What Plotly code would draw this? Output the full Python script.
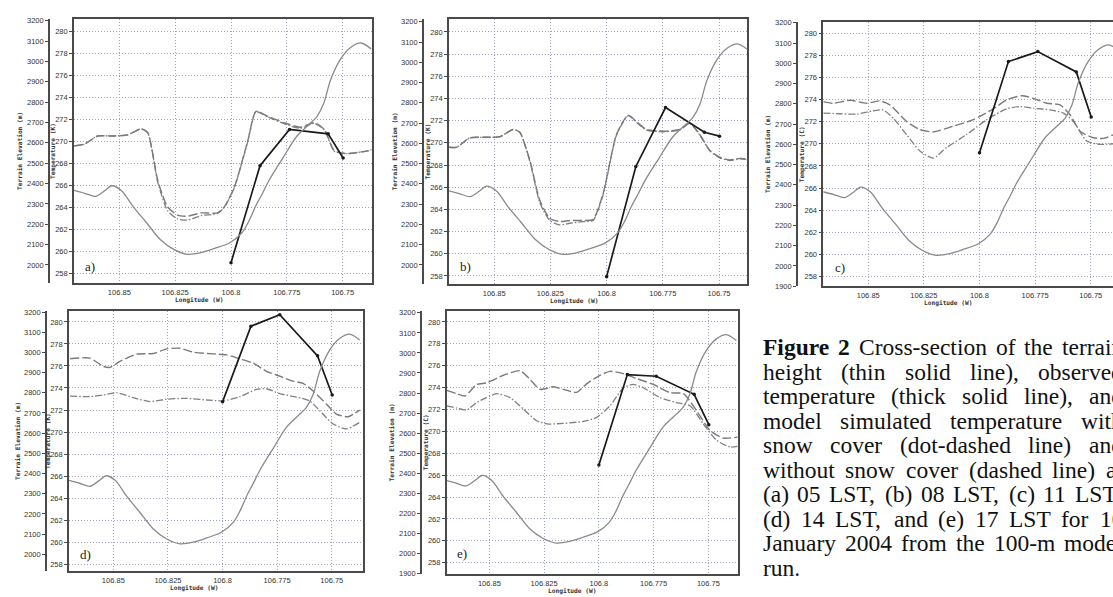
import plotly.graph_objects as go

W, H = 1113, 597

# ---------------- data ----------------
terrain_lon = [106.8703, 106.8655, 106.8607, 106.8565, 106.8534, 106.849, 106.8439, 106.8378,
               106.8317, 106.8256, 106.8195, 106.8134, 106.8073, 106.8005, 106.7951, 106.792,
               106.789, 106.786, 106.783, 106.7768, 106.7707, 106.7646, 106.7616, 106.7585,
               106.7555, 106.7509, 106.7463, 106.7418, 106.7372]
terrain_elev = [2366, 2352, 2337, 2365, 2389, 2365, 2288, 2207,
                2125, 2076, 2052, 2060, 2081, 2109, 2158, 2215,
                2288, 2350, 2415, 2525, 2630, 2695, 2728, 2793,
                2907, 3013, 3070, 3091, 3062]

obs_lon = [106.8, 106.787, 106.7738, 106.7565, 106.7498]
obs_a = [258.96, 267.8, 271.1, 270.7, 268.5]
obs_b = [257.94, 267.87, 273.18, 270.95, 270.6]
obs_c = [269.2, 277.44, 278.34, 276.5, 272.42]
obs_d = [272.74, 279.61, 280.66, 276.92, 273.36]
obs_e = [266.93, 275.19, 275.04, 273.39, 270.62]

# model without snow cover (dashed) / with snow cover (dot-dashed)
nosnow_a_lon = [106.8703, 106.8657, 106.8597, 106.8537, 106.8463, 106.8403, 106.8373, 106.8328,
                106.8284, 106.8239, 106.8194, 106.8134, 106.806, 106.803, 106.7985, 106.7925,
                106.7888, 106.7836, 106.7761, 106.7687, 106.7627, 106.7582, 106.7537, 106.7478,
                106.7388, 106.737]
nosnow_a_T = [269.6, 269.75, 270.5, 270.5, 270.6, 271.15, 270.8, 266.45,
              264.05, 263.3, 263.2, 263.5, 263.5, 264.05, 265.85, 270.05,
              272.75, 272.3, 271.7, 271.3, 271.7, 271.1, 269.15, 268.9,
              269.15, 269.25]
snow_a_lon = nosnow_a_lon
snow_a_T = [269.6, 269.75, 270.5, 270.5, 270.6, 271.15, 270.8, 266.3,
            263.7, 262.95, 262.85, 263.25, 263.45, 264.0, 265.8, 270.0,
            272.7, 272.25, 271.6, 271.2, 271.65, 271.05, 269.1, 268.9,
            269.15, 269.25]

nosnow_b_lon = [106.8701, 106.8667, 106.8608, 106.8549, 106.8475, 106.8416, 106.8386, 106.8341,
                106.8297, 106.8253, 106.8208, 106.8164, 106.8104, 106.806, 106.8016, 106.7956,
                106.7904, 106.7867, 106.7823, 106.7749, 106.7675, 106.763, 106.7586, 106.754,
                106.7497, 106.7453, 106.7408, 106.7377]
nosnow_b_T = [269.6, 269.6, 270.45, 270.5, 270.55, 271.2, 270.95, 268.4,
              264.8, 263.2, 262.9, 263.0, 263.0, 263.1, 265.4, 270.75,
              272.5, 271.9, 271.2, 271.05, 271.2, 271.8, 270.75, 269.3,
              268.7, 268.45, 268.6, 268.55]
snow_b_lon = nosnow_b_lon
snow_b_T = [269.6, 269.6, 270.45, 270.5, 270.55, 271.2, 270.95, 268.3,
            264.6, 263.0, 262.6, 262.75, 262.9, 263.0, 265.3, 270.7,
            272.45, 271.85, 271.15, 271.0, 271.15, 271.75, 270.7, 269.25,
            268.65, 268.4, 268.55, 268.5]

nosnow_c_lon = [106.8702, 106.8657, 106.8582, 106.8507, 106.8448, 106.8403, 106.8328, 106.8268,
                106.8208, 106.8118, 106.8028, 106.7938, 106.7878, 106.781, 106.7758, 106.7698,
                106.7638, 106.7593, 106.7548, 106.7488, 106.7443, 106.74]
nosnow_c_T = [273.82, 273.67, 273.94, 273.67, 273.88, 273.52, 272.03, 271.29,
              271.08, 271.59, 272.18, 273.16, 273.97, 274.35, 274.11, 273.67,
              273.52, 272.63, 271.14, 270.55, 270.49, 270.8]
snow_c_lon = [106.8702, 106.8627, 106.8552, 106.8477, 106.8433, 106.8388, 106.8328, 106.8268,
              106.8208, 106.8148, 106.8058, 106.7968, 106.7878, 106.7818, 106.7758, 106.7683,
              106.7623, 106.7578, 106.7518, 106.7458, 106.74]
snow_c_T = [272.78, 272.72, 272.69, 272.99, 273.07, 272.33, 270.84, 269.36,
            268.7, 269.66, 270.84, 272.18, 273.16, 273.37, 273.22, 273.07,
            272.78, 272.03, 270.25, 269.95, 270.01]

nosnow_d_lon = [106.8698, 106.8607, 106.8546, 106.8515, 106.847, 106.8393, 106.8317, 106.8256,
                106.8195, 106.8134, 106.8043, 106.7982, 106.7921, 106.786, 106.7799, 106.7738,
                106.7677, 106.7631, 106.7585, 106.7524, 106.7479, 106.7425, 106.7372]
nosnow_d_T = [276.65, 276.71, 275.96, 275.87, 276.41, 277.07, 277.13, 277.55,
              277.61, 277.25, 277.1, 277.01, 276.65, 276.26, 275.52, 275.07,
              274.62, 274.41, 273.72, 272.53, 271.63, 271.39, 271.99]
snow_d_lon = [106.8698, 106.8607, 106.8546, 106.8485, 106.8409, 106.8332, 106.8256, 106.8165,
              106.8073, 106.7997, 106.7921, 106.7845, 106.7799, 106.7738, 106.7662, 106.7601,
              106.7555, 106.7494, 106.7433, 106.7372]
snow_d_T = [273.27, 273.21, 273.36, 273.57, 273.12, 272.77, 272.98, 273.06,
            272.91, 272.83, 273.21, 273.87, 273.93, 273.48, 273.18, 272.83,
            271.93, 270.73, 270.28, 270.88]

nosnow_e_lon = [106.8695, 106.8649, 106.8611, 106.8558, 106.8512, 106.8436, 106.836, 106.8314,
                106.8269, 106.8208, 106.8162, 106.8101, 106.8056, 106.7995, 106.7949, 106.7888,
                106.7827, 106.7751, 106.7675, 106.7614, 106.7553, 106.7492, 106.7432, 106.7366]
nosnow_e_T = [273.75, 273.45, 273.24, 274.29, 274.44, 275.13, 275.55, 274.74,
              273.84, 274.08, 273.84, 273.57, 274.35, 275.13, 275.49, 275.28,
              274.83, 274.29, 273.54, 273.45, 271.88, 270.08, 269.39, 269.48]
snow_e_lon = [106.8695, 106.8649, 106.8604, 106.8558, 106.8467, 106.8406, 106.8345, 106.8284,
              106.8238, 106.8162, 106.8071, 106.801, 106.7949, 106.7888, 106.7842, 106.7797,
              106.7721, 106.7645, 106.7584, 106.7523, 106.7462, 106.7401, 106.7366]
snow_e_T = [272.34, 272.13, 271.95, 272.64, 273.45, 273.09, 272.04, 270.98,
            270.68, 270.74, 270.92, 271.28, 272.34, 273.99, 274.29, 273.99,
            273.09, 272.64, 272.34, 270.68, 269.18, 268.58, 268.64]

x_tickvals = [106.85, 106.825, 106.8, 106.775, 106.75]
x_ticktext = ["106.85", "106.825", "106.8", "106.775", "106.75"]
temp_ticks = list(range(258, 281, 2))
elev_ticks = list(range(1900, 3201, 100))

caption_lines = [
    "Figure 2 Cross-section of the terrain",
    "height (thin solid line), observed",
    "temperature (thick solid line), and",
    "model simulated temperature with",
    "snow cover (dot-dashed line) and",
    "without snow cover (dashed line) at",
    "(a) 05 LST, (b) 08 LST, (c) 11 LST,",
    "(d) 14 LST, and (e) 17 LST for 10",
    "January 2004 from the 100-m model",
    "run.",
]
caption_bold_words = ["Figure", "2"]

# ---------------- layout (pixels) ----------------
panels = [
    dict(label="a)", unit="K", box=(74, 16, 371.7, 284), terr_x=49, xr=(106.8703, 106.737),
         tr=(257.1, 281.17), er=(1910, 3210), lab=(90, 267),
         obs=obs_a, ns=(nosnow_a_lon, nosnow_a_T), sn=(snow_a_lon, snow_a_T)),
    dict(label="b)", unit="K", box=(449, 16, 746.7, 285), terr_x=423, xr=(106.8701, 106.7377),
         tr=(257.26, 281.18), er=(1905, 3214.6), lab=(465, 267),
         obs=obs_b, ns=(nosnow_b_lon, nosnow_b_T), sn=(snow_b_lon, snow_b_T)),
    dict(label="c)", unit="C", box=(823.3, 19, 1113, 287), terr_x=797, xr=(106.8702, 106.740),
         tr=(257.13, 281.04), er=(1900, 3204.9), lab=(840, 268),
         obs=obs_c, ns=(nosnow_c_lon, nosnow_c_T), sn=(snow_c_lon, snow_c_T)),
    dict(label="d)", unit="K", box=(69, 312, 363, 576), terr_x=46, xr=(106.8703, 106.7357),
         tr=(257.35, 281.01), er=(1916, 3206), lab=(85, 559),
         obs=obs_d, ns=(nosnow_d_lon, nosnow_d_T), sn=(snow_d_lon, snow_d_T)),
    dict(label="e)", unit="C", box=(446.7, 312, 737.7, 579), terr_x=421, xr=(106.8695, 106.7366),
         tr=(256.95, 281.02), er=(1896.6, 3210), lab=(462, 558),
         obs=obs_e, ns=(nosnow_e_lon, nosnow_e_T), sn=(snow_e_lon, snow_e_T)),
]

AX = "#4a4a4a"
GRID = "#9da3ba"
TICKF = dict(family="Liberation Sans, Arial, sans-serif", size=7.5, color="#333333")
TITLEF = dict(family="DejaVu Sans Mono, monospace", size=6.2, color="#333333")
SERIF = "Liberation Serif, Times New Roman, serif"


def px(x):
    return x / W


def py(y):
    return 1 - y / H


fig = go.Figure()
layout = dict(width=W, height=H, margin=dict(l=0, r=0, t=0, b=0, pad=0), autosize=False,
              paper_bgcolor="white", plot_bgcolor="white", showlegend=False)
annotations = []

for p, P in enumerate(panels):
    xn = "x" if p == 0 else f"x{p+1}"
    ytn = "y" if p == 0 else f"y{2*p+1}"
    yen = f"y{2*p+2}"
    xk = "xaxis" if p == 0 else f"xaxis{p+1}"
    ytk = "yaxis" if p == 0 else f"yaxis{2*p+1}"
    yek = f"yaxis{2*p+2}"
    x0, y0, x1, y1 = P["box"]

    layout[xk] = dict(domain=[px(x0), min(1.0, px(x1))], anchor=ytn, range=list(P["xr"]),
                      tickvals=x_tickvals, ticktext=x_ticktext, tickfont=TICKF,
                      showline=True, linecolor=AX, linewidth=1.6, mirror=True,
                      ticks="", ticklabelstandoff=1,
                      showgrid=True, gridcolor=GRID, griddash="1px,2px", gridwidth=1,
                      zeroline=False)
    layout[ytk] = dict(domain=[py(y1), py(y0)], anchor=xn, range=list(P["tr"]),
                       tickvals=temp_ticks, tickfont=TICKF,
                       showline=True, linecolor=AX, linewidth=1.6,
                       mirror=(p != 2), ticks="outside", ticklen=3, tickcolor=AX,
                       showgrid=True, gridcolor=GRID, griddash="1px,2px", gridwidth=1,
                       zeroline=False)
    layout[yek] = dict(overlaying=ytn, anchor="free", position=px(P["terr_x"]), side="left",
                       range=list(P["er"]), tickvals=elev_ticks, tickfont=TICKF,
                       showline=True, linecolor=AX, linewidth=1.6,
                       ticks="outside", ticklen=3, tickcolor=AX,
                       showgrid=False, zeroline=False)

    fig.add_trace(go.Scatter(x=terrain_lon, y=terrain_elev, xaxis=xn, yaxis=yen, mode="lines",
                             line=dict(color="#8a8a8a", width=1.3, shape="spline", smoothing=0.8),
                             hoverinfo="skip"))
    fig.add_trace(go.Scatter(x=P["sn"][0], y=P["sn"][1], xaxis=xn, yaxis=ytn, mode="lines",
                             line=dict(color="#808080", width=1.3, dash="7px,2px,1.5px,2px",
                                       shape="spline", smoothing=0.6), hoverinfo="skip"))
    fig.add_trace(go.Scatter(x=P["ns"][0], y=P["ns"][1], xaxis=xn, yaxis=ytn, mode="lines",
                             line=dict(color="#7a7a7a", width=1.4, dash="9px,3px",
                                       shape="spline", smoothing=0.6), hoverinfo="skip"))
    fig.add_trace(go.Scatter(x=obs_lon, y=P["obs"], xaxis=xn, yaxis=ytn, mode="lines+markers",
                             line=dict(color="#1a1a1a", width=1.7),
                             marker=dict(color="#1a1a1a", size=3.5), hoverinfo="skip"))

    cy = (y0 + y1) / 2
    annotations.append(dict(x=px(P["terr_x"] - 29), y=py(cy), xref="paper", yref="paper",
                            text="<b>Terrain Elevation (m)</b>", textangle=-90, showarrow=False,
                            font=TITLEF, xanchor="center", yanchor="middle"))
    annotations.append(dict(x=px(x0 - 21), y=py(cy), xref="paper", yref="paper",
                            text=f"<b>Temperature ({P['unit']})</b>", textangle=-90,
                            showarrow=False, font=TITLEF, xanchor="center", yanchor="middle"))
    annotations.append(dict(x=px(x0 + 125), y=py(y1 + 17), xref="paper", yref="paper",
                            text="<b>Longitude (W)</b>", showarrow=False, font=TITLEF,
                            xanchor="center", yanchor="middle", borderpad=0))
    annotations.append(dict(x=px(P["lab"][0]), y=py(P["lab"][1]), xref="paper", yref="paper",
                            text=P["label"], showarrow=False,
                            font=dict(family=SERIF, size=13, color="#222222"),
                            xanchor="center", yanchor="middle"))

# ---- caption: justified text, one annotation per word ----
REG = {'a': 444, 'b': 500, 'c': 444, 'd': 500, 'e': 444, 'f': 333, 'g': 500, 'h': 500,
       'i': 278, 'j': 278, 'k': 500, 'l': 278, 'm': 778, 'n': 500, 'o': 500, 'p': 500,
       'q': 500, 'r': 333, 's': 389, 't': 278, 'u': 500, 'v': 500, 'w': 722, 'x': 500,
       'y': 500, 'z': 444, 'A': 722, 'C': 667, 'F': 556, 'J': 389, 'L': 611, 'S': 556,
       'T': 611, '(': 333, ')': 333, ',': 250, '.': 250, '-': 333}
BOLD = {'F': 611, 'i': 278, 'g': 500, 'u': 556, 'r': 444, 'e': 444}


def word_w(word, bold):
    tab = BOLD if bold else REG
    return sum(500 if ch.isdigit() else tab.get(ch, REG.get(ch, 500)) for ch in word) / 1000.0


CAP_X0, CAP_X1 = 762, 1122
CAP_FONT = 23.5
CAP_EM = 23.5
CAP_Y0, CAP_DY = 349, 24.8

for i, line in enumerate(caption_lines):
    words = line.split(" ")
    bolds = [(i == 0 and w in caption_bold_words) for w in words]
    widths = [word_w(w, b) * CAP_EM for w, b in zip(words, bolds)]
    last = (i == len(caption_lines) - 1)
    if last or len(words) == 1:
        gap = 0.25 * CAP_EM
    else:
        gap = (CAP_X1 - CAP_X0 - sum(widths)) / (len(words) - 1)
    xpos = CAP_X0
    for w, b, wd in zip(words, bolds, widths):
        annotations.append(dict(x=px(xpos), y=py(CAP_Y0 + i * CAP_DY), xref="paper", yref="paper",
                                text=f"<b>{w}</b>" if b else w, showarrow=False,
                                xanchor="left", yanchor="middle", borderpad=0,
                                font=dict(family=SERIF, size=CAP_FONT, color="#111111")))
        xpos += wd + gap

layout["annotations"] = annotations
fig.update_layout(**layout)
fig.write_html("out.html", config={"displayModeBar": False},
               post_script="document.body.style.margin='0';document.body.style.overflow='hidden';")
